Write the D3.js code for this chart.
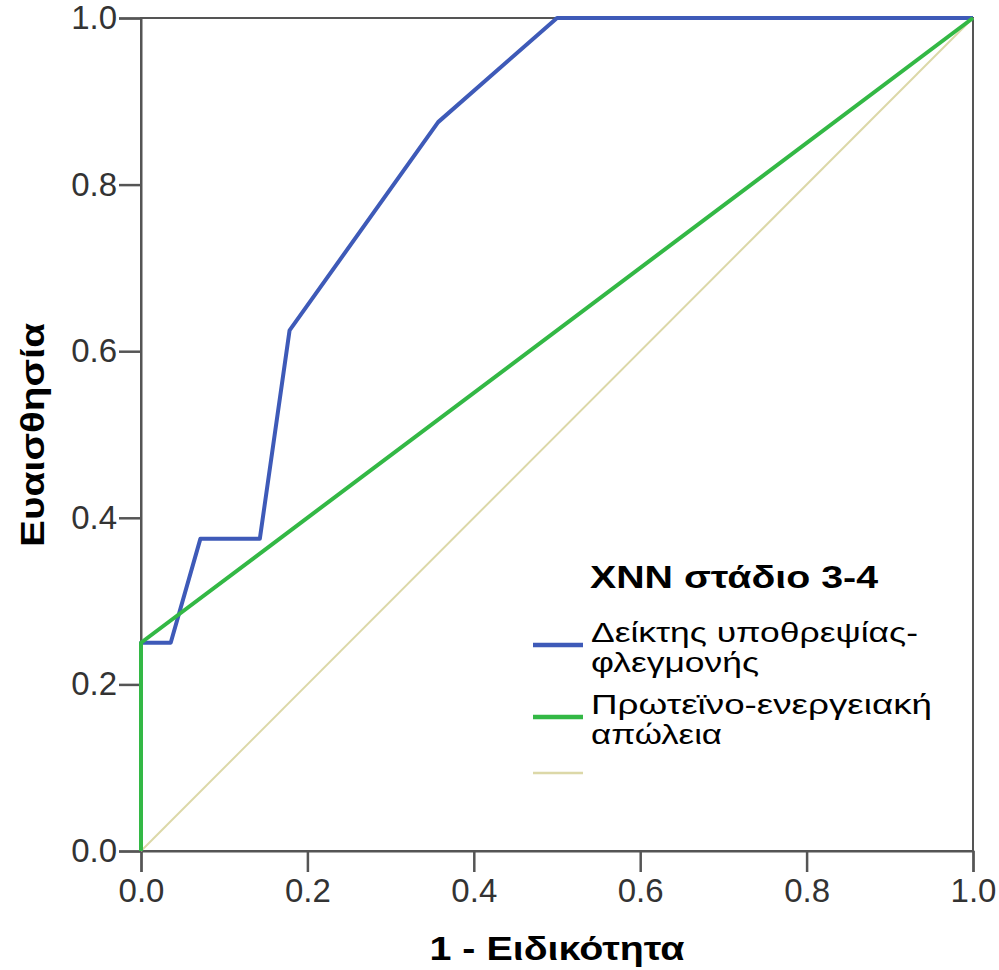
<!DOCTYPE html>
<html>
<head>
<meta charset="utf-8">
<script src="https://cdn.jsdelivr.net/npm/d3@7"></script>
<style>
  body { margin: 0; background: #fff; }
  svg text { font-family: "Liberation Sans", Arial, sans-serif; }
</style>
</head>
<body>
<svg id="roc" width="999" height="970"></svg>
<script>
// ROC curve points (1 - specificity, sensitivity)
var blueX = [0, 0, 1/28, 2/28, 4/28, 5/28, 10/28, 14/28, 1]
var blueY = [0, 0.25, 0.25, 0.375, 0.375, 0.625, 0.875, 1, 1]
var greenX = [0, 0, 1]
var greenY = [0, 0.25, 1]
var refX = [0, 1]
var refY = [0, 1]
var ticks = [0, 0.2, 0.4, 0.6, 0.8, 1.0]

var legendTitle = 'XNN στάδιο 3-4'
var legendItems = [
  {lines: ['Δείκτης υποθρεψίας-', 'φλεγμονής'], color: '#3e5ab8', w: 4.5},
  {lines: ['Πρωτεϊνο-ενεργειακή', 'απώλεια'], color: '#33b845', w: 4.5},
  {lines: [], color: '#dcd8a8', w: 2.5}
]
// measured text widths in the reference (the Greek face there runs wider)
var lineWidths = [[327, 168], [341, 131], []]

var svg = d3.select('#roc')
var x = d3.scaleLinear().domain([0, 1]).range([141, 973])
var y = d3.scaleLinear().domain([0, 1]).range([851, 18])

// frame
svg.append('rect')
  .attr('x', x(0)).attr('y', y(1))
  .attr('width', x(1) - x(0)).attr('height', y(0) - y(1))
  .attr('fill', 'none').attr('stroke', '#555').attr('stroke-width', 2)

var xAxis = svg.append('g')
  .attr('transform', 'translate(0,' + y(0) + ')')
  .call(d3.axisBottom(x).tickValues(ticks).tickFormat(d3.format('.1f')).tickSize(21).tickPadding(7))
var yAxis = svg.append('g')
  .attr('transform', 'translate(' + x(0) + ',0)')
  .call(d3.axisLeft(y).tickValues(ticks).tickFormat(d3.format('.1f')).tickSize(22).tickPadding(2))

;[xAxis, yAxis].forEach(function(a){
  a.select('.domain').attr('stroke', '#555').attr('stroke-width', 2)
  a.selectAll('.tick line').attr('stroke', '#555').attr('stroke-width', 2.5)
  a.selectAll('.tick text')
    .attr('fill', '#333')
    .style('font-size', '33px')
    .style('font-family', '"Liberation Sans", Arial, sans-serif')
})

var line = d3.line().x(d => x(d[0])).y(d => y(d[1]))

svg.append('path')
  .attr('d', line(d3.zip(refX, refY)))
  .attr('fill', 'none').attr('stroke', legendItems[2].color).attr('stroke-width', 2)

svg.append('path')
  .attr('d', line(d3.zip(blueX, blueY)))
  .attr('fill', 'none').attr('stroke', legendItems[0].color).attr('stroke-width', 4)
  .attr('stroke-linejoin', 'round')

svg.append('path')
  .attr('d', line(d3.zip(greenX, greenY)))
  .attr('fill', 'none').attr('stroke', legendItems[1].color).attr('stroke-width', 4)
  .attr('stroke-linejoin', 'round')

// axis titles
svg.append('text')
  .attr('x', (x(0) + x(1)) / 2).attr('y', 960)
  .attr('text-anchor', 'middle')
  .attr('textLength', 255).attr('lengthAdjust', 'spacingAndGlyphs')
  .style('font-size', '34px').style('font-weight', 'bold')
  .text('1 - Ειδικότητα')

svg.append('text')
  .attr('transform', 'translate(44,435) rotate(-90)')
  .attr('text-anchor', 'middle')
  .attr('textLength', 224).attr('lengthAdjust', 'spacingAndGlyphs')
  .style('font-size', '34px').style('font-weight', 'bold')
  .text('Ευαισθησία')

// legend
var lg = svg.append('g')
lg.append('text')
  .attr('x', 590).attr('y', 588)
  .attr('textLength', 288).attr('lengthAdjust', 'spacingAndGlyphs')
  .style('font-size', '32px').style('font-weight', 'bold')
  .text(legendTitle)

var itemTop = [645, 717, 773]
legendItems.forEach(function(it, i){
  lg.append('line')
    .attr('x1', 533).attr('x2', 583)
    .attr('y1', itemTop[i]).attr('y2', itemTop[i])
    .attr('stroke', it.color).attr('stroke-width', it.w)
  it.lines.forEach(function(t, j){
    lg.append('text')
      .attr('x', 591).attr('y', itemTop[i] - 3 + j * 30)
      .attr('textLength', lineWidths[i][j]).attr('lengthAdjust', 'spacingAndGlyphs')
      .style('font-size', '28px')
      .text(t)
  })
})
</script>
</body>
</html>
